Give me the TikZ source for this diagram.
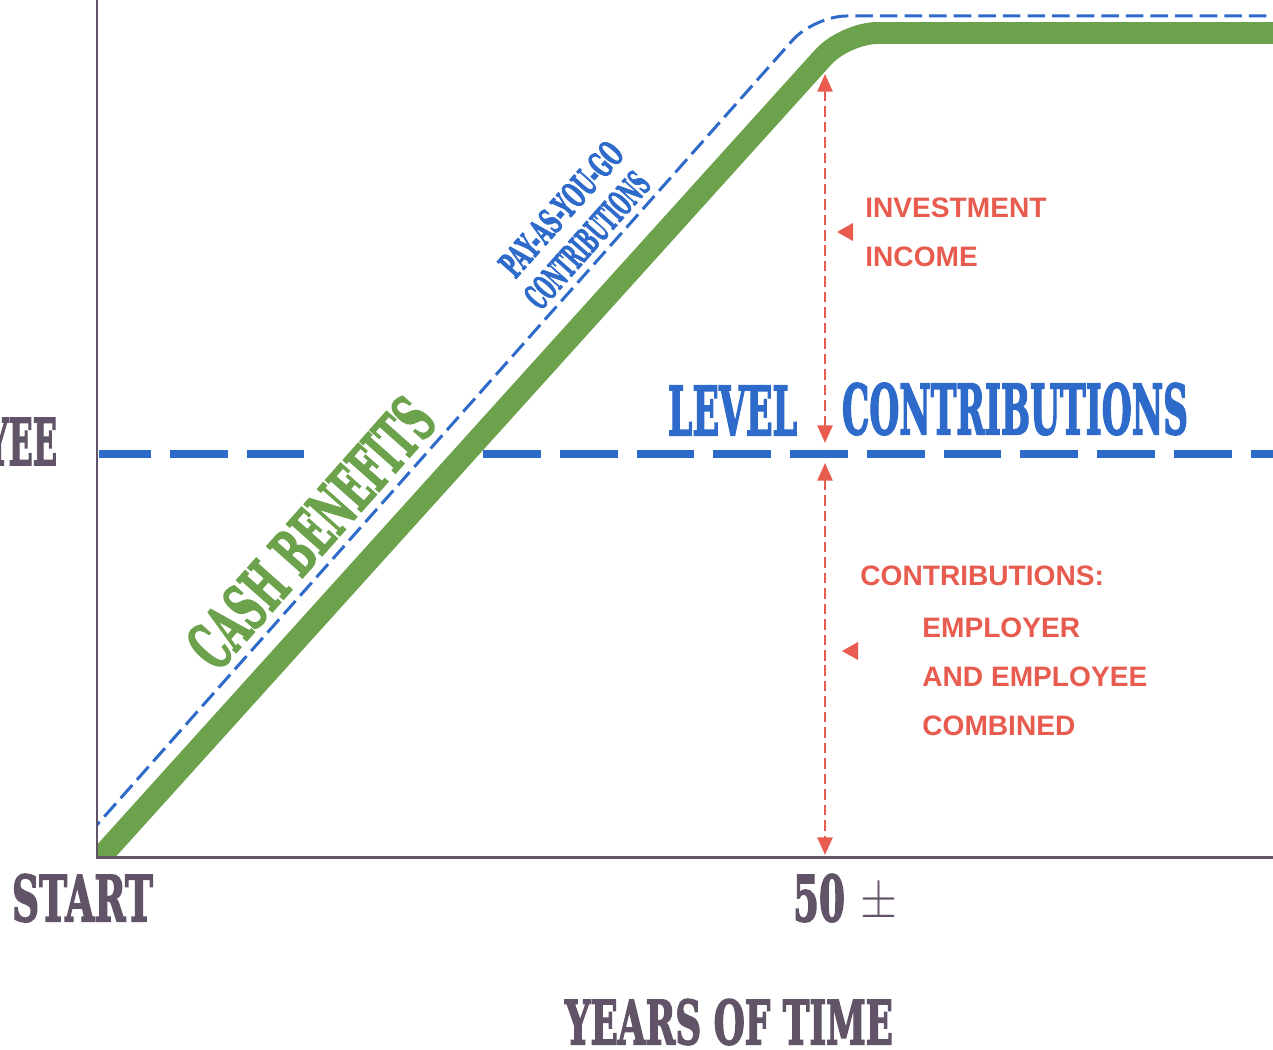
\documentclass[tikz,border=0pt]{standalone}
\usepackage{fontspec}
\usepackage{graphicx}
\usetikzlibrary{arrows.meta}

% heavy slab face for the titles, plain bold sans for the notes
\newfontfamily\slabfont{DejaVu Serif}[UprightFont={* Bold},FakeBold=3]
\newfontfamily\labelfont{Liberation Sans}[UprightFont={* Bold}]

% one drawing unit
\newlength\pxu
\setlength\pxu{0.02cm}
% slab text squeezed to a given width and cap height (in drawing units)
\newcommand\fitslab[3]{\resizebox{#1\pxu}{#2\pxu}{\slabfont #3}}

\definecolor{axisgray}{RGB}{98,84,104}
\definecolor{chartblue}{RGB}{46,106,202}
\definecolor{chartgreen}{RGB}{108,162,76}
\definecolor{chartred}{RGB}{232,92,80}

\tikzset{
  slabnode/.style={inner sep=0pt, outer sep=0pt},
  axistext/.style={slabnode, text=axisgray, anchor=south west},
  bluetext/.style={slabnode, text=chartblue},
  redlabel/.style={inner sep=0pt, anchor=base west, text=chartred,
                   font=\labelfont\fontsize{16}{16}\selectfont},
  axisline/.style={draw=axisgray, line width=1.7pt, line join=miter},
  levelline/.style={draw=chartblue, line width=5.1pt,
                    dash pattern=on 32.9pt off 10.8pt},
  benefitline/.style={draw=chartgreen, line width=12.5pt, rounded corners=0.65cm},
  paygoline/.style={draw=chartblue, line width=1.7pt, rounded corners=0.65cm,
                    dash pattern=on 10pt off 4pt},
  redarrow/.style={draw=chartred, line width=1.4pt,
                   dash pattern=on 6pt off 2.8pt,
                   >={Triangle[width=8.5pt,length=10pt]}, <->},
  pointer/.style={fill=chartred},
}

\begin{document}
\begin{tikzpicture}[x=0.02cm,y=-0.02cm]
\useasboundingbox (0,0) rectangle (1273,1050);
\clip (0,0) rectangle (1273,1050);
\fill[white] (0,0) rectangle (1273,1050);

% axes corner points
\coordinate (origin) at (97,857);
\coordinate (ytop) at (97,-5);
\coordinate (xend) at (1285,857);

% level contributions line (broken where the benefits label sits)
\begin{scope}
  \clip (99,0) rectangle (1285,1050);
  \draw[levelline] (93,454) -- (305,454);
\end{scope}
\draw[levelline] (483,454) -- (1290,454);

% cash benefits and pay-as-you-go curves
\begin{scope}
  \clip (98,-20) rectangle (1290,855);
  \draw[benefitline] (89,870) -- (845,33) -- (1290,33);
  \draw[paygoline] (88,835) -- (814,16) -- (1290,16);
\end{scope}

% axes
\draw[axisline] (ytop) -- (origin) -- (xend);

% red measuring arrows
\coordinate (invtop) at (825,74);
\coordinate (invbot) at (825,443);
\coordinate (contop) at (825,463);
\coordinate (conbot) at (825,855);
\draw[redarrow] (invbot) -- (invtop);
\draw[redarrow] (contop) -- (conbot);

% small pointers
\fill[pointer] (853,223) -- (853,241) -- (837,232) -- cycle;
\fill[pointer] (858,642) -- (858,660) -- (842,651) -- cycle;

% red notes
\node[redlabel] (inv1) at (865,218) {INVESTMENT};
\node[redlabel] (inv2) at (865,267) {INCOME};
\node[redlabel] (con1) at (860,585) {CONTRIBUTIONS:};
\node[redlabel] (con2) at (922,637) {EMPLOYER};
\node[redlabel] (con3) at (922,686) {AND EMPLOYEE};
\node[redlabel] (con4) at (922,735) {COMBINED};

% axis titles
\node[axistext] (yee) at (-14,465) {\fitslab{71}{47}{YEE}};
\node[axistext] (start) at (12,922) {\fitslab{141}{47}{START}};
\node[axistext] (fifty) at (793,922) {\fitslab{52}{47}{50}};
\node[axistext] (pm) at (860,922) {\resizebox*{37\pxu}{37\pxu}{$\pm$}};
\node[axistext] (years) at (565,1045) {\fitslab{328}{45}{YEARS OF TIME}};

% blue titles
\node[bluetext, anchor=south west] (level) at (668,435) {\fitslab{129}{49}{LEVEL}};
\node[bluetext, anchor=south west] (levcon) at (842,435) {\fitslab{346}{51}{CONTRIBUTIONS}};
\node[bluetext, rotate=48.4] (paygo1) at (561,209) {\fitslab{166}{26}{PAY-AS-YOU-GO}};
\node[bluetext, rotate=48.4] (paygo2) at (587,240) {\fitslab{168}{26}{CONTRIBUTIONS}};

% green title along the benefits line
\node[slabnode, text=chartgreen, rotate=48.4, anchor=south] (cash) at (329,549)
  {\fitslab{334}{48}{CASH BENEFITS}};
\end{tikzpicture}
\end{document}
